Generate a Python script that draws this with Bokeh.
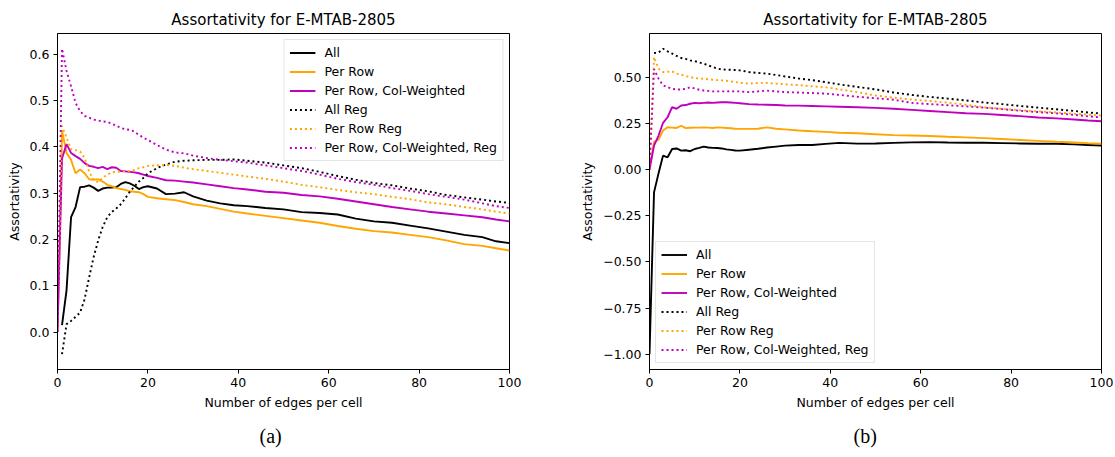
import numpy as np
from bokeh.plotting import figure
from bokeh.layouts import row
from bokeh.models import Title, FixedTicker, CustomJSTickFormatter, Range1d
from bokeh.embed import file_html
from bokeh.resources import INLINE

nan = float("nan")

edges = [0, 1, 2, 3, 4, 5, 6, 7, 8, 9, 10, 11, 12, 13, 14, 15, 16, 17, 18, 19, 20,
         22, 24, 26, 28, 30, 33, 36, 39, 42, 46, 50, 54, 58, 62, 66, 70, 74, 78, 82, 86, 90, 94, 97, 100]

series_names = ["All", "Per Row", "Per Row, Col-Weighted", "All Reg", "Per Row Reg", "Per Row, Col-Weighted, Reg"]

# panel (a)
a_all = [nan, 0.015, 0.09, 0.248, 0.27, 0.313, 0.314, 0.317, 0.312, 0.305, 0.31, 0.312, 0.312, 0.313, 0.32, 0.324, 0.321, 0.316, 0.309, 0.313, 0.315,
         0.31, 0.298, 0.299, 0.302, 0.293, 0.284, 0.278, 0.274, 0.272, 0.268, 0.265, 0.259, 0.257, 0.254, 0.245, 0.239, 0.236, 0.23, 0.224, 0.217, 0.21, 0.205, 0.196, 0.192]
a_row = [0.0, 0.435, 0.387, 0.372, 0.343, 0.351, 0.343, 0.33, 0.329, 0.33, 0.325, 0.318, 0.315, 0.311, 0.309, 0.307, 0.304, 0.303, 0.302, 0.298, 0.292,
         0.289, 0.287, 0.285, 0.281, 0.276, 0.272, 0.266, 0.26, 0.256, 0.251, 0.246, 0.241, 0.236, 0.229, 0.223, 0.218, 0.215, 0.21, 0.205, 0.198, 0.19, 0.186, 0.181, 0.176]
a_rowcw = [0.0, 0.375, 0.406, 0.387, 0.38, 0.374, 0.365, 0.359, 0.357, 0.354, 0.357, 0.352, 0.356, 0.355, 0.348, 0.347, 0.346, 0.345, 0.343, 0.34, 0.337,
           0.333, 0.328, 0.327, 0.325, 0.323, 0.319, 0.315, 0.311, 0.308, 0.303, 0.301, 0.296, 0.293, 0.288, 0.282, 0.276, 0.27, 0.265, 0.26, 0.256, 0.252, 0.248, 0.243, 0.239]
a_all_reg = [nan, -0.048, 0.017, 0.024, 0.033, 0.042, 0.071, 0.118, 0.162, 0.198, 0.227, 0.248, 0.259, 0.267, 0.276, 0.289, 0.303, 0.314, 0.325, 0.333, 0.343,
             0.354, 0.362, 0.368, 0.37, 0.371, 0.372, 0.372, 0.373, 0.37, 0.366, 0.36, 0.354, 0.346, 0.337, 0.329, 0.322, 0.317, 0.31, 0.304, 0.296, 0.291, 0.286, 0.282, 0.279]
a_row_reg = [0.0, 0.445, 0.42, 0.395, 0.393, 0.39, 0.376, 0.346, 0.328, 0.324, 0.333, 0.34, 0.345, 0.346, 0.347, 0.347, 0.348, 0.35, 0.354, 0.356, 0.359,
             0.36, 0.361, 0.359, 0.355, 0.352, 0.348, 0.344, 0.34, 0.336, 0.331, 0.325, 0.318, 0.313, 0.307, 0.302, 0.298, 0.292, 0.287, 0.28, 0.276, 0.27, 0.265, 0.26, 0.256]
a_rowcw_reg = [0.0, 0.612, 0.564, 0.531, 0.495, 0.477, 0.467, 0.463, 0.459, 0.457, 0.455, 0.454, 0.45, 0.446, 0.441, 0.438, 0.437, 0.433, 0.426, 0.42, 0.415,
               0.404, 0.394, 0.388, 0.386, 0.381, 0.376, 0.372, 0.369, 0.366, 0.36, 0.354, 0.348, 0.34, 0.331, 0.324, 0.318, 0.311, 0.305, 0.298, 0.292, 0.286, 0.278, 0.272, 0.268]

# panel (b)
b_all = [-1.0, -0.123, -0.02, 0.076, 0.067, 0.112, 0.115, 0.103, 0.105, 0.1, 0.112, 0.118, 0.125, 0.12, 0.118, 0.117, 0.115, 0.11, 0.107, 0.104, 0.103,
         0.108, 0.113, 0.12, 0.125, 0.13, 0.134, 0.134, 0.14, 0.145, 0.141, 0.142, 0.145, 0.148, 0.149, 0.147, 0.146, 0.146, 0.144, 0.142, 0.14, 0.14, 0.137, 0.134, 0.131]
b_row = [0.0, 0.15, 0.163, 0.212, 0.23, 0.228, 0.226, 0.238, 0.225, 0.227, 0.228, 0.228, 0.229, 0.228, 0.226, 0.229, 0.228, 0.226, 0.224, 0.222, 0.221,
         0.221, 0.222, 0.229, 0.222, 0.218, 0.212, 0.208, 0.205, 0.2, 0.197, 0.192, 0.187, 0.185, 0.182, 0.178, 0.175, 0.171, 0.166, 0.161, 0.156, 0.151, 0.147, 0.143, 0.14]
b_rowcw = [0.0, 0.13, 0.185, 0.254, 0.284, 0.339, 0.33, 0.348, 0.35, 0.357, 0.362, 0.36, 0.362, 0.364, 0.362, 0.364, 0.365, 0.365, 0.364, 0.362, 0.36,
           0.355, 0.353, 0.352, 0.35, 0.348, 0.347, 0.345, 0.343, 0.341, 0.338, 0.335, 0.33, 0.324, 0.318, 0.312, 0.306, 0.302, 0.296, 0.29, 0.283, 0.278, 0.272, 0.266, 0.262]
b_all_reg = [nan, 0.632, 0.634, 0.655, 0.641, 0.629, 0.616, 0.605, 0.6, 0.592, 0.588, 0.581, 0.574, 0.565, 0.556, 0.548, 0.543, 0.542, 0.541, 0.54, 0.538,
             0.529, 0.524, 0.52, 0.513, 0.505, 0.494, 0.485, 0.474, 0.462, 0.448, 0.435, 0.418, 0.405, 0.394, 0.385, 0.375, 0.364, 0.355, 0.345, 0.336, 0.327, 0.318, 0.31, 0.304]
b_row_reg = [0.0, 0.61, 0.547, 0.529, 0.53, 0.533, 0.52, 0.515, 0.507, 0.502, 0.496, 0.494, 0.492, 0.49, 0.487, 0.485, 0.484, 0.482, 0.478, 0.475, 0.471,
             0.466, 0.47, 0.47, 0.466, 0.463, 0.458, 0.452, 0.446, 0.435, 0.42, 0.402, 0.39, 0.38, 0.372, 0.363, 0.352, 0.338, 0.33, 0.322, 0.316, 0.31, 0.303, 0.298, 0.293]
b_rowcw_reg = [0.0, 0.545, 0.493, 0.457, 0.447, 0.438, 0.435, 0.434, 0.438, 0.447, 0.44, 0.433, 0.429, 0.427, 0.424, 0.424, 0.424, 0.424, 0.425, 0.424, 0.424,
               0.42, 0.424, 0.428, 0.424, 0.42, 0.418, 0.415, 0.412, 0.405, 0.395, 0.387, 0.379, 0.362, 0.355, 0.349, 0.343, 0.336, 0.328, 0.319, 0.312, 0.305, 0.297, 0.289, 0.283]

x_ticks = [0, 20, 40, 60, 80, 100]
a_yticks = [0.0, 0.1, 0.2, 0.3, 0.4, 0.5, 0.6]
b_yticks = [-1.0, -0.75, -0.5, -0.25, 0.0, 0.25, 0.5]

title_text = "Assortativity for E-MTAB-2805"
x_label = "Number of edges per cell"
y_label = "Assortativity"

COLORS = ["black", "#FFA500", "#BF00BF", "black", "#FFA500", "#BF00BF"]
DASHES = ["solid", "solid", "solid", "2 3", "2 3", "2 3"]
FONT = "DejaVu Sans"


def make_panel(width, left, right, series, yticks, decimals, caption, cap_offset, legend_loc):
    allv = np.array([v for s in series for v in s], dtype=float)
    lo, hi = np.nanmin(allv), np.nanmax(allv)
    pad = (hi - lo) * 0.05
    p = figure(width=width, height=457, output_backend="svg", toolbar_location=None,
               x_range=Range1d(0, 100), y_range=Range1d(lo - pad, hi + pad),
               min_border_left=left, min_border_right=right, min_border_top=33, min_border_bottom=88)
    p.background_fill_color = "white"
    p.border_fill_color = "white"
    p.outline_line_color = "black"
    p.outline_line_width = 1
    p.grid.visible = False

    x = np.array(edges, dtype=float)
    for s, name, c, d in zip(series, series_names, COLORS, DASHES):
        p.line(x, np.array(s, dtype=float), line_color=c, line_width=1.9, line_dash=d, legend_label=name)

    p.title.text = title_text
    p.title.align = "center"
    p.title.text_font = FONT
    p.title.text_font_size = "15px"
    p.title.text_font_style = "normal"
    p.title.text_color = "black"

    for ax in (p.xaxis[0], p.yaxis[0]):
        ax.axis_line_color = "black"
        ax.axis_line_width = 1
        ax.major_tick_line_color = "black"
        ax.major_tick_line_width = 1
        ax.major_tick_out = 4
        ax.major_tick_in = 0
        ax.minor_tick_out = 0
        ax.minor_tick_in = 0
        ax.major_label_text_font = FONT
        ax.major_label_text_font_size = "12.5px"
        ax.major_label_text_color = "black"
        ax.major_label_standoff = 4
        ax.axis_label_text_font = FONT
        ax.axis_label_text_font_size = "12.5px"
        ax.axis_label_text_font_style = "normal"
        ax.axis_label_text_color = "black"
        ax.axis_label_standoff = 5

    p.xaxis[0].ticker = FixedTicker(ticks=x_ticks)
    p.xaxis[0].axis_label = x_label
    p.yaxis[0].ticker = FixedTicker(ticks=yticks)
    p.yaxis[0].axis_label = y_label
    p.yaxis[0].formatter = CustomJSTickFormatter(
        code="return tick.toFixed(%d).replace('-', '\\u2212');" % decimals)

    lg = p.legend[0]
    lg.location = legend_loc
    lg.border_line_color = "#cccccc"
    lg.border_line_width = 1
    lg.background_fill_color = "white"
    lg.background_fill_alpha = 0.8
    lg.label_text_font = FONT
    lg.label_text_font_size = "12.5px"
    lg.label_text_color = "black"
    lg.glyph_width = 26
    lg.glyph_height = 15
    lg.label_height = 15
    lg.label_standoff = 9
    lg.spacing = 4
    lg.padding = 5
    lg.margin = 6

    cap = Title(text=caption, align="left", offset=cap_offset, text_font="Liberation Serif",
                text_font_size="20px", text_font_style="normal", text_color="black", standoff=21)
    p.add_layout(cap, "below")
    return p


p1 = make_panel(557, 57, 48, [a_all, a_row, a_rowcw, a_all_reg, a_row_reg, a_rowcw_reg],
                a_yticks, 1, "(a)", 202, "top_right")
p2 = make_panel(558, 92, 14, [b_all, b_row, b_rowcw, b_all_reg, b_row_reg, b_rowcw_reg],
                b_yticks, 2, "(b)", 204, "bottom_left")

layout = row(p1, p2)
open("out.html", "w").write(file_html(layout, INLINE))
